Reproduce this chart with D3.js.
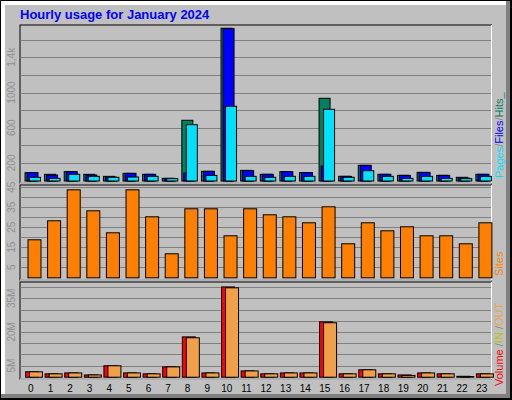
<!DOCTYPE html>
<html><head><meta charset="utf-8">
<script src="https://cdn.jsdelivr.net/npm/d3@7"></script>
<style>body{margin:0;background:#fff}</style>
</head><body>
<svg id="chart" width="512" height="400"></svg>
<script>
var hours = d3.range(24)
var hits  = [95,76,106,76,53,87,76,30,690,110,1736,121,76,106,95,940,53,178,76,64,98,64,42,76]
var files = [95,68,106,68,45,87,76,30,91,110,1732,117,76,106,95,170,53,178,76,64,98,64,34,76]
var pages = [42,30,76,53,42,45,53,27,640,64,849,53,42,53,53,815,42,117,53,30,53,30,27,53]
var sites = [19,28.5,44,33.5,22.5,44,30.5,12,34.5,34.5,21,34.5,31.5,30.5,27.5,35.5,17,27.5,23.5,25.5,21,21,17,27.5]
var volume = [2.4,1.5,1.9,1.0,5.1,1.9,1.5,4.6,18,1.9,40.3,2.8,1.5,1.9,1.9,24.7,1.5,3.3,1.5,1.0,1.9,1.5,0.4,1.5]
var inout  = [2.4,1.5,1.9,1.0,5.1,1.9,1.5,4.6,17.6,1.9,39.9,2.8,1.5,1.9,1.9,24.3,1.5,3.3,1.5,0.8,1.9,1.5,0.3,1.5]
var hitsTicks = [200,600,1000,1400], hitsTickLabels = ["200","600","1000","1,4k"]
var sitesTicks = [5,15,25,35,45]
var volTicks = [5,20,35], volTickLabels = ["5M","20M","35M"]

var svg = d3.select("#chart")
var L = 20.5, R = 491

// frame
svg.append("rect").attr("x",0).attr("y",0).attr("width",512).attr("height",400).attr("fill","#000")
svg.append("rect").attr("x",1).attr("y",1).attr("width",509).attr("height",397).attr("fill","#808080")
svg.append("rect").attr("x",1).attr("y",1).attr("width",505).attr("height",393).attr("fill","#fff")
svg.append("rect").attr("x",5).attr("y",5).attr("width",501).attr("height",389).attr("fill","#c0c0c0")

svg.append("text").attr("x",20).attr("y",19).text("Hourly usage for January 2024")
  .attr("font-family","Liberation Sans, Arial").attr("font-weight","bold").attr("font-size",13).attr("fill","#0000ff")

var x = d3.scaleBand().domain(hours).range([L,R])

function panel(top, bottom, yMax, step){
  var y = d3.scaleLinear().domain([0,yMax]).range([bottom, bottom - yMax/step*((bottom-top)/(yMax/step))])
  svg.append("rect").attr("x",L-0.5).attr("y",top).attr("width",R-L+1).attr("height",bottom-top+2).attr("fill","none").attr("stroke","#000")
  svg.append("line").attr("x1",L-0.5).attr("x2",R+0.5).attr("y1",bottom+2).attr("y2",bottom+2).attr("stroke","#fff")
  svg.append("line").attr("x1",R+0.5).attr("x2",R+0.5).attr("y1",top).attr("y2",bottom+2).attr("stroke","#fff")
  return y
}

function grid(y, vals){
  svg.append("g").selectAll("line").data(vals).join("line")
    .attr("x1",L).attr("x2",R).attr("y1",d=>Math.round(y(d))+0.5).attr("y2",d=>Math.round(y(d))+0.5)
    .attr("stroke","#808080")
}

function yLabels(y, vals, labels){
  svg.append("g").selectAll("text").data(vals).join("text")
    .attr("transform",d=>"translate(15,"+y(d)+") rotate(-90)")
    .attr("text-anchor","middle").attr("font-family","Liberation Sans, Arial").attr("font-size",10).attr("fill","#909090")
    .text((d,i)=>labels[i])
}

function bars(y, data, off, w, fill){
  svg.append("g").selectAll("rect").data(data).join("rect")
    .attr("x",(d,i)=>x(i)+off+0.5).attr("y",d=>y(d)+0.5).attr("width",w).attr("height",d=>Math.max(0,y(0)-y(d)))
    .attr("fill",fill).attr("stroke","#000")
}

// top panel: hits/files/pages
var yTop = d3.scaleLinear().domain([0,200]).range([180.5,162.9])
panel(25, 181, 1, 1)
grid(yTop, d3.range(200,1800,200))
bars(yTop, hits, 4, 11, "#00805f")
bars(yTop, files, 6, 11, "#0000ff")
bars(yTop, pages, 8.5, 11, "#00e0ff")
yLabels(yTop, hitsTicks, hitsTickLabels)

// sites panel
var ySites = d3.scaleLinear().domain([0,5]).range([277.3,267.3])
panel(185, 278, 1, 1)
grid(ySites, d3.range(5,50,5))
bars(ySites, sites, 7, 13, "#ff8000")
yLabels(ySites, sitesTicks, sitesTicks.map(String))

// volume panel
var yVol = d3.scaleLinear().domain([0,5]).range([376.7,365.5])
panel(282, 377, 1, 1)
grid(yVol, d3.range(5,45,5))
bars(yVol, volume, 4.5, 13, "#ff0000")
bars(yVol, inout, 8.5, 13, "#f0a048")
yLabels(yVol, volTicks, volTickLabels)

// hour labels
svg.append("g").selectAll("text").data(hours).join("text")
  .attr("x",d=>x(d)+x.bandwidth()/2+0.5).attr("y",392).attr("text-anchor","middle")
  .attr("font-family","Liberation Sans, Arial").attr("font-size",10).attr("fill","#000").text(d=>d)

// right legends
function legend(yBase, parts){
  var t = svg.append("text").attr("transform","translate(503,"+yBase+") rotate(-90)")
    .attr("font-family","Liberation Sans, Arial").attr("font-size",11)
  parts.forEach(p=>t.append("tspan").attr("fill",p[1]).text(p[0]))
}
legend(178, [["Pages","#00e0ff"],["/","#808080"],["Files","#0000ff"],["/","#808080"],["Hits_","#00805f"]])
legend(276, [["Sites","#ff8000"]])
legend(386, [["Volume","#ff0000"],[" /","#808080"],["IN","#c0c000"],[" /","#808080"],["OUT","#f0a048"]])
</script>
</body></html>
